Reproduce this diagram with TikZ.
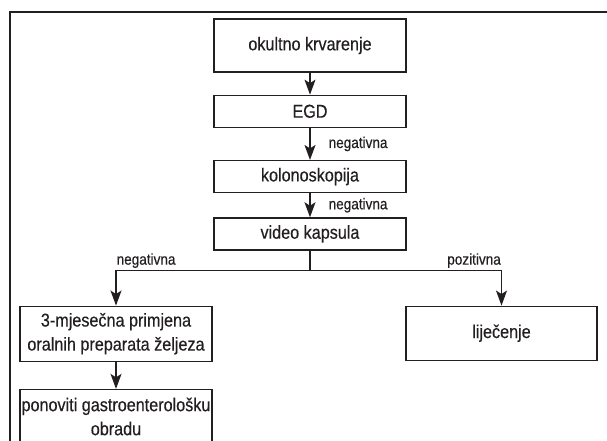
\documentclass[tikz,border=0pt]{standalone}
\usepackage{fontspec}
\setmainfont{Liberation Sans}[FakeStretch=0.87, FakeBold=0.4]
\usetikzlibrary{arrows.meta, positioning}
\definecolor{lineDark}{HTML}{231F20}

\begin{document}
\begin{tikzpicture}[
    x=1pt, y=-1pt,
    box/.style={rectangle, draw=lineDark, line width=1.3pt, minimum width=192pt, align=center, inner sep=1pt, text=lineDark, font=\fontsize{18.6}{24}\selectfont},
    lbl/.style={inner xsep=0pt, inner ysep=2pt, text=lineDark, font=\fontsize{15.6}{18}\selectfont},
    arr/.style={draw=lineDark, line width=1.3pt, -{Stealth[length=15pt, width=11pt, inset=3.5pt]}},
]
    \useasboundingbox (0,0) rectangle (607,441);
    \begin{scope}
        \clip (0,0) rectangle (607,441);
        \draw[lineDark, line width=2.4pt] (10,12) rectangle (640,470);
    \end{scope}
    \node[box, minimum height=53pt] (okult) at (310,45.5) {okultno krvarenje};
    \node[box, minimum height=32pt, below=22pt of okult] (egd) {EGD};
    \node[box, minimum height=32pt, below=32pt of egd] (kolon) {kolonoskopija};
    \node[box, minimum height=32pt, below=24pt of kolon] (kapsula) {video kapsula};
    \node[box, minimum height=55pt, below=55pt of kapsula, xshift=-194pt] (oral) {3-mjesečna primjena\\oralnih preparata željeza};
    \node[box, minimum height=54pt, below=27pt of oral] (ponovi) {ponoviti gastroenterološku\\obradu};
    \node[box, minimum height=54pt, minimum width=191pt, below=55pt of kapsula, xshift=191.5pt] (lijec) {liječenje};

    \draw[arr] (okult) -- (egd);
    \draw[arr] (egd) -- node[lbl, anchor=west, xshift=18pt] {negativna} (kolon);
    \draw[arr] (kolon) -- node[lbl, anchor=west, xshift=18pt] {negativna} (kapsula);
    \draw[lineDark, line width=1.3pt] (kapsula.south) -- ++(0,20) coordinate (split);
    \draw[arr] (split) -| node[lbl, pos=0.5, anchor=south west] {negativna} (oral.north);
    \draw[arr] (split) -| node[lbl, pos=0.5, anchor=south east] {pozitivna} (lijec.north);
    \draw[arr] (oral) -- (ponovi);
\end{tikzpicture}
\end{document}
